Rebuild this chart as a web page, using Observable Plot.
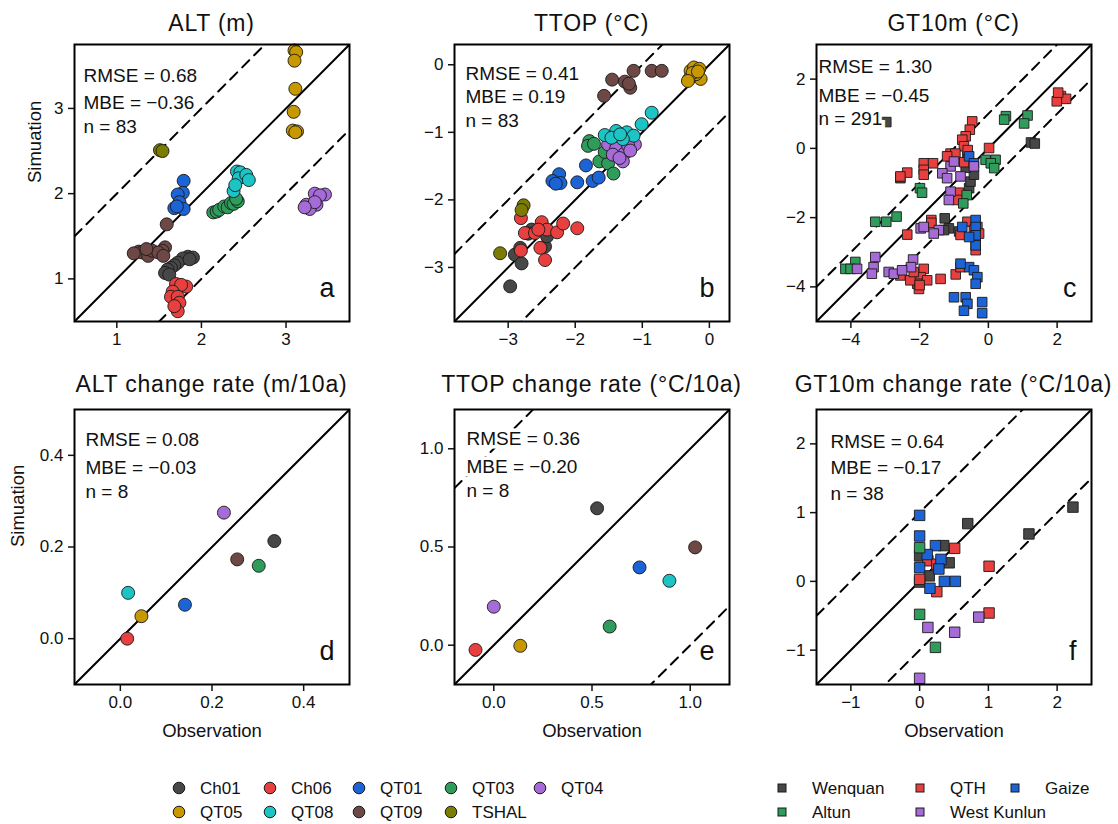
<!DOCTYPE html>
<html><head><meta charset="utf-8">
<script src="https://cdn.jsdelivr.net/npm/d3@7"></script>
<script src="https://cdn.jsdelivr.net/npm/@observablehq/plot@0.6"></script>
<style>
body{margin:0;background:#fff;font-family:"Liberation Sans",Arial,sans-serif;color:#111;}
#root{position:relative;width:1118px;height:824px;overflow:hidden;background:#fff;}
.panel{position:absolute;}
.panel svg{overflow:visible;background:transparent;}
.title{position:absolute;font-size:23px;line-height:1;letter-spacing:0.8px;white-space:nowrap;transform:translateX(-50%);}
.leg{position:absolute;font-size:17px;line-height:1;white-space:nowrap;}
</style></head><body><div id="root"></div>
<script>
// ---------------- categories & colours ----------------
const circleSites = ["Ch01","Ch06","QT01","QT03","QT04","QT05","QT08","QT09","TSHAL"];
const circleColors = ["#474747","#e8403e","#1c64d6","#2f9c5c","#a66bd6","#c89800","#1dc4c6","#6d4844","#7c7c00"];
const squareSites = ["Wenquan","QTH","Gaize","Altun","West Kunlun"];
const squareColors = ["#474747","#e8403e","#1c64d6","#2f9c5c","#a66bd6"];

// ---------------- panel texts & axes ----------------
const titles = ["ALT (m)","TTOP (°C)","GT10m (°C)","ALT change rate (m/10a)","TTOP change rate (°C/10a)","GT10m change rate (°C/10a)"];
const rmse = ["0.68","0.41","1.30","0.08","0.36","0.64"];
const mbe = ["−0.36","0.19","−0.45","−0.03","−0.20","−0.17"];
const nObs = ["83","83","291","8","8","38"];
const letters = ["a","b","c","d","e","f"];
const domains = [[0.5,3.75],[-3.8,0.3],[-5,3],[-0.1,0.5],[-0.2,1.2],[-1.5,2.5]];
const ticks = [[1,2,3],[-3,-2,-1,0],[-4,-2,0,2],[0,0.2,0.4],[0,0.5,1],[-1,0,1,2]];
const tickFormats = ["d","d","d",".1f",".1f","d"];
const bandOffset = 1;

// ---------------- data: [site, observation, simulation] ----------------
const ptsALT = [
 ["Ch01",1.84,1.26],["Ch01",1.90,1.25],["Ch01",1.78,1.24],["Ch01",1.72,1.19],["Ch01",1.68,1.16],["Ch01",1.64,1.13],["Ch01",1.60,1.11],["Ch01",1.57,1.07],["Ch01",1.62,1.05],["Ch01",1.86,1.23],
 ["Ch06",1.70,0.94],["Ch06",1.82,0.91],["Ch06",1.76,0.93],["Ch06",1.66,0.85],["Ch06",1.64,0.79],["Ch06",1.72,0.79],["Ch06",1.74,0.72],["Ch06",1.72,0.62],["Ch06",1.68,0.68],
 ["QT01",1.79,2.15],["QT01",1.78,2.01],["QT01",1.72,1.99],["QT01",1.74,1.90],["QT01",1.68,1.83],["QT01",1.79,1.82],["QT01",1.71,1.85],
 ["QT03",2.14,1.78],["QT03",2.18,1.79],["QT03",2.21,1.81],["QT03",2.27,1.85],["QT03",2.31,1.84],["QT03",2.35,1.89],["QT03",2.38,1.88],["QT03",2.43,1.91],["QT03",2.41,1.94],
 ["QT04",3.34,2.00],["QT04",3.46,1.99],["QT04",3.40,1.98],["QT04",3.24,1.87],["QT04",3.36,1.87],["QT04",3.28,1.82],["QT04",3.34,1.90],["QT04",3.22,1.84],
 ["QT05",3.10,3.68],["QT05",3.12,3.66],["QT05",3.10,3.56],["QT05",3.11,3.23],["QT05",3.09,2.96],["QT05",3.08,2.74],["QT05",3.13,2.73],["QT05",3.11,2.72],
 ["QT08",2.42,2.26],["QT08",2.46,2.25],["QT08",2.44,2.18],["QT08",2.53,2.22],["QT08",2.56,2.16],["QT08",2.38,2.03],["QT08",2.40,2.10],
 ["QT09",1.59,1.64],["QT09",1.57,1.37],["QT09",1.54,1.33],["QT09",1.26,1.32],["QT09",1.30,1.31],["QT09",1.37,1.27],["QT09",1.42,1.33],["QT09",1.49,1.31],["QT09",1.55,1.27],["QT09",1.35,1.35],["QT09",1.20,1.30],
 ["TSHAL",1.51,2.51],["TSHAL",1.54,2.50]
];
const ptsTTOP = [
 ["Ch01",-2.90,-2.81],["Ch01",-2.80,-2.94],["Ch01",-2.82,-2.71],["Ch01",-2.65,-2.44],["Ch01",-2.45,-2.69],["Ch01",-2.97,-3.28],["Ch01",-2.42,-2.54],["Ch01",-2.70,-2.50],
 ["Ch06",-2.81,-2.27],["Ch06",-2.75,-2.49],["Ch06",-2.60,-2.49],["Ch06",-2.50,-2.33],["Ch06",-2.42,-2.44],["Ch06",-2.27,-2.48],["Ch06",-2.18,-2.35],["Ch06",-1.97,-2.42],["Ch06",-2.52,-2.71],["Ch06",-2.45,-2.89],["Ch06",-2.81,-2.75],["Ch06",-2.55,-2.44],
 ["QT01",-1.84,-1.49],["QT01",-2.24,-1.62],["QT01",-2.34,-1.72],["QT01",-2.22,-1.75],["QT01",-2.29,-1.76],["QT01",-1.97,-1.74],["QT01",-1.74,-1.72],["QT01",-1.65,-1.67],
 ["QT03",-1.79,-1.13],["QT03",-1.81,-1.20],["QT03",-1.64,-1.43],["QT03",-1.51,-1.46],["QT03",-1.43,-1.61],["QT03",-1.56,-1.29],["QT03",-1.72,-1.17],
 ["QT04",-1.51,-1.18],["QT04",-1.39,-1.24],["QT04",-1.26,-1.31],["QT04",-1.29,-1.43],["QT04",-1.11,-1.18],["QT04",-1.44,-1.33],["QT04",-1.21,-1.20],["QT04",-1.34,-1.38],["QT04",-1.18,-1.27],
 ["QT05",-0.28,-0.09],["QT05",-0.23,-0.04],["QT05",-0.15,-0.06],["QT05",-0.13,-0.21],["QT05",-0.30,-0.21],["QT05",-0.20,-0.14],["QT05",-0.25,-0.12],["QT05",-0.17,-0.10],["QT05",-0.32,-0.24],
 ["QT08",-0.86,-0.71],["QT08",-1.01,-0.88],["QT08",-1.56,-1.04],["QT08",-1.39,-0.98],["QT08",-1.23,-1.00],["QT08",-1.13,-1.05],["QT08",-1.29,-1.10],["QT08",-1.46,-1.08],["QT08",-1.33,-1.03],
 ["QT09",-1.57,-0.46],["QT09",-1.45,-0.22],["QT09",-1.26,-0.25],["QT09",-1.18,-0.34],["QT09",-1.13,-0.09],["QT09",-0.86,-0.09],["QT09",-0.71,-0.09],["QT09",-1.20,-0.28],
 ["TSHAL",-2.77,-2.08],["TSHAL",-2.80,-2.15],["TSHAL",-3.12,-2.79]
];
const ptsGT = [
 ["Wenquan",-2.97,0.76],["Wenquan",1.24,0.17],["Wenquan",1.35,0.14],["Wenquan",-0.56,-1.15],["Wenquan",-0.52,-0.96],["Wenquan",-0.42,-0.76],["Wenquan",-1.27,-2.02],["Wenquan",-1.15,-2.31],["Wenquan",-1.29,-2.36],["Wenquan",-2.56,-0.86],["Wenquan",-0.61,-0.23],["Wenquan",-0.66,-0.56],["Wenquan",-0.85,-2.40],
 ["QTH",2.11,1.51],["QTH",2.26,1.43],["QTH",1.99,1.36],["QTH",2.03,1.61],["QTH",-0.47,0.78],["QTH",-0.54,0.54],["QTH",-0.66,0.35],["QTH",-0.76,0.25],["QTH",-0.71,0.06],["QTH",0.02,0.01],["QTH",-1.10,-0.15],["QTH",-0.96,-0.15],["QTH",-1.20,-0.23],["QTH",-1.88,-0.43],["QTH",-1.61,-0.43],["QTH",-1.88,-0.62],["QTH",-1.88,-0.76],["QTH",-2.36,-0.70],["QTH",-2.56,-0.81],["QTH",-0.86,-1.28],["QTH",-0.90,-1.49],["QTH",-1.66,-2.07],["QTH",-1.66,-2.15],["QTH",-2.36,-2.49],["QTH",-0.61,-2.12],["QTH",-0.32,-2.27],["QTH",-0.37,-2.65],["QTH",-0.37,-2.94],["QTH",-1.88,-3.48],["QTH",-1.97,-3.72],["QTH",-2.07,-3.91],["QTH",-1.78,-3.81],["QTH",-2.27,-3.81],["QTH",-2.56,-3.67],["QTH",-1.39,-3.77],["QTH",-0.95,-3.64],["QTH",-0.81,-3.43],["QTH",-2.17,-3.57],["QTH",-2.02,-4.06],["QTH",-0.81,-2.50],["QTH",-0.42,-2.36],["QTH",-0.27,-2.46],["QTH",-0.60,-0.05],["QTH",-0.70,-0.40],["QTH",-2.00,-3.95],
 ["Gaize",-0.56,-0.23],["Gaize",-0.42,-0.43],["Gaize",-0.76,-2.27],["Gaize",-0.37,-2.07],["Gaize",-0.37,-2.27],["Gaize",-0.37,-2.51],["Gaize",-0.37,-2.80],["Gaize",-0.56,-2.56],["Gaize",-0.56,-3.43],["Gaize",-0.42,-3.52],["Gaize",-0.32,-3.72],["Gaize",-0.37,-3.91],["Gaize",-1.00,-4.30],["Gaize",-0.66,-4.30],["Gaize",-0.61,-4.49],["Gaize",-0.71,-4.69],["Gaize",-0.18,-4.44],["Gaize",-0.18,-4.76],["Gaize",-0.81,-3.33],
 ["Altun",0.51,0.93],["Altun",0.46,0.83],["Altun",1.14,0.95],["Altun",1.04,0.72],["Altun",-0.08,-0.33],["Altun",0.21,-0.33],["Altun",0.07,-0.43],["Altun",0.17,-0.57],["Altun",-1.99,-1.15],["Altun",-1.93,-1.28],["Altun",-2.67,-1.97],["Altun",-2.97,-2.12],["Altun",-3.29,-2.12],["Altun",-3.87,-3.28],["Altun",-4.16,-3.48],["Altun",-4.01,-3.48],["Altun",-0.63,-1.35],["Altun",-0.73,-1.59],
 ["West Kunlun",-1.10,-0.52],["West Kunlun",-1.34,-0.72],["West Kunlun",-1.20,-0.86],["West Kunlun",-0.81,-0.81],["West Kunlun",-0.42,-0.52],["West Kunlun",-1.10,-1.25],["West Kunlun",-1.15,-1.49],["West Kunlun",-1.97,-2.31],["West Kunlun",-1.88,-2.27],["West Kunlun",-1.44,-2.36],["West Kunlun",-1.59,-2.46],["West Kunlun",-3.29,-3.14],["West Kunlun",-3.34,-3.43],["West Kunlun",-3.39,-3.62],["West Kunlun",-3.82,-3.48],["West Kunlun",-2.90,-3.57],["West Kunlun",-2.75,-3.62],["West Kunlun",-2.19,-3.21],["West Kunlun",-2.25,-3.43],["West Kunlun",-2.51,-3.52],["West Kunlun",-1.00,-0.38]
];
const ptsALTrate = [
 ["Ch01",0.336,0.213],["Ch06",0.015,0.000],["QT01",0.141,0.074],["QT03",0.302,0.159],
 ["QT04",0.226,0.275],["QT05",0.046,0.049],["QT08",0.017,0.100],["QT09",0.255,0.173]
];
const ptsTTOPrate = [
 ["Ch01",0.526,0.697],["Ch06",-0.093,-0.024],["QT01",0.742,0.396],["QT03",0.590,0.095],
 ["QT04",0.000,0.196],["QT05",0.135,-0.003],["QT08",0.894,0.328],["QT09",1.025,0.498]
];
const ptsGTrate = [
 ["Wenquan",2.23,1.08],["Wenquan",1.59,0.69],["Wenquan",0.70,0.84],["Wenquan",0.35,0.52],["Wenquan",0.43,0.27],["Wenquan",0.00,0.37],["Wenquan",0.14,0.08],["Wenquan",0.00,-0.01],
 ["QTH",0.51,0.48],["QTH",0.12,0.30],["QTH",0.25,0.25],["QTH",0.00,0.03],["QTH",0.25,-0.15],["QTH",1.01,0.22],["QTH",1.01,-0.46],
 ["Gaize",0.00,0.96],["Gaize",0.00,0.66],["Gaize",0.23,0.52],["Gaize",0.31,0.32],["Gaize",0.28,0.18],["Gaize",0.00,0.20],["Gaize",0.15,-0.10],["Gaize",0.36,0.00],["Gaize",0.52,0.00],["Gaize",0.11,0.39],
 ["Altun",0.00,0.49],["Altun",0.00,-0.48],["Altun",0.23,-0.96],
 ["West Kunlun",0.12,-0.67],["West Kunlun",0.51,-0.74],["West Kunlun",0.86,-0.52],["West Kunlun",0.00,-1.41]
];

// ---------------- layout (pixels, code only) ----------------
const cols = [{left:0,w:360},{left:380,w:360},{left:742,w:376}];
const rows = [{top:0,h:350,mt:44,fh:277,titleTop:11.5},{top:360,h:400,mt:49,fh:275,titleTop:372.5}];
const FW = 275, ML = 74;
const annDx = [9,11,2,11,12,14];
const annBase = [[30,57.5,81],[28,51,75],[21,50,73],[29,56.7,81.4],[28,55.7,80],[30.7,57.4,83.4]];
const ylabDx = [-39,-56.6];

const root = document.getElementById("root");
const FONT = "Liberation Sans, Arial, sans-serif";

function makePanel(i, pts, sites, colors, symbol, r) {
  const row = Math.floor(i / 3), col = i % 3;
  const C = cols[col], R = rows[row];
  const ends = domains[i];
  const fmt = d3.format(tickFormats[i]);
  const lineStyle = {stroke: "#000", strokeWidth: 2};
  const marks = [
    Plot.line(ends, {x: d => d, y: d => d + bandOffset, ...lineStyle, strokeDasharray: "10,7", clip: true}),
    Plot.line(ends, {x: d => d, y: d => d - bandOffset, ...lineStyle, strokeDasharray: "10,7", clip: true}),
    Plot.line(ends, {x: d => d, y: d => d, ...lineStyle, clip: true}),
    Plot.dot(pts, {x: d => d[1], y: d => d[2], fill: d => d[0], stroke: "#1a1a1a", strokeWidth: 0.9, r, symbol})
  ];
  const lines = [`RMSE = ${rmse[i]}`, `MBE = ${mbe[i]}`, `n = ${nObs[i]}`];
  lines.forEach((t, j) => {
    marks.push(Plot.text([t], {frameAnchor: "top-left", textAnchor: "start", dx: annDx[i], dy: annBase[i][j] - 0.32 * 19,
      fontSize: 19, fill: "#111", stroke: "white", strokeWidth: 7, paintOrder: "stroke", strokeLinejoin: "miter"}));
  });
  marks.push(
    Plot.frame({stroke: "#000", strokeWidth: 2}),
    Plot.axisX(ticks[i], {tickSize: 7, tickPadding: 4, tickFormat: fmt, strokeWidth: 1.5, fontSize: 17, label: null}),
    Plot.axisY(ticks[i], {tickSize: 6, tickPadding: 5, tickFormat: fmt, strokeWidth: 1.5, fontSize: 17, label: null}),
    Plot.text([letters[i]], {frameAnchor: "bottom-right", textAnchor: "end", dx: -15, dy: -16 - 0.32 * 27, fontSize: 27, fill: "#111"})
  );
  if (col === 0) {
    marks.push(Plot.text(["Simuation"], {frameAnchor: "left", rotate: -90, dx: ylabDx[row], fontSize: 18.5, fill: "#111"}));
  }
  if (row === 1) {
    marks.push(Plot.text(["Observation"], {frameAnchor: "bottom", dy: 52, fontSize: 18.5, fill: "#111"}));
  }
  const chart = Plot.plot({
    width: C.w, height: R.h,
    marginLeft: ML, marginRight: C.w - ML - FW, marginTop: R.mt, marginBottom: R.h - R.mt - R.fh,
    x: {domain: domains[i]},
    y: {domain: domains[i]},
    color: {domain: sites, range: colors},
    style: {fontFamily: FONT, fontSize: "17px", color: "#111", background: "transparent", overflow: "visible"},
    marks
  });
  const wrap = document.createElement("div");
  wrap.className = "panel";
  wrap.style.left = C.left + "px";
  wrap.style.top = R.top + "px";
  wrap.appendChild(chart);
  root.appendChild(wrap);

  const t = document.createElement("div");
  t.className = "title";
  t.textContent = titles[i];
  t.style.left = (C.left + ML + FW / 2) + "px";
  t.style.top = R.titleTop + "px";
  root.appendChild(t);
}

makePanel(0, ptsALT, circleSites, circleColors, "circle", 6.5);
makePanel(1, ptsTTOP, circleSites, circleColors, "circle", 6.5);
makePanel(2, ptsGT, squareSites, squareColors, "square", 5.4);
makePanel(3, ptsALTrate, circleSites, circleColors, "circle", 6.5);
makePanel(4, ptsTTOPrate, circleSites, circleColors, "circle", 6.5);
makePanel(5, ptsGTrate, squareSites, squareColors, "square", 5.9);

// ---------------- legends ----------------
const circleLegX = [179, 270, 359, 451, 540];
const squareLegX = [782, 920, 1015];
const legRowY = [788, 812];
function legendItem(label, color, shape, cx, cy, textGap) {
  const ns = "http://www.w3.org/2000/svg";
  const svg = document.createElementNS(ns, "svg");
  svg.setAttribute("width", 16); svg.setAttribute("height", 16);
  svg.style.position = "absolute";
  svg.style.left = (cx - 8) + "px"; svg.style.top = (cy - 8) + "px";
  let el;
  if (shape === "circle") {
    el = document.createElementNS(ns, "circle");
    el.setAttribute("cx", 8); el.setAttribute("cy", 8); el.setAttribute("r", 5.8);
  } else {
    el = document.createElementNS(ns, "rect");
    el.setAttribute("x", 4); el.setAttribute("y", 4); el.setAttribute("width", 8); el.setAttribute("height", 8);
  }
  el.setAttribute("fill", color); el.setAttribute("stroke", "#1a1a1a"); el.setAttribute("stroke-width", 1);
  svg.appendChild(el);
  root.appendChild(svg);
  const t = document.createElement("div");
  t.className = "leg";
  t.textContent = label;
  t.style.left = (cx + textGap) + "px";
  t.style.top = (cy - 8.5) + "px";
  root.appendChild(t);
}
circleSites.forEach((s, k) => legendItem(s, circleColors[k], "circle", circleLegX[k % 5], legRowY[Math.floor(k / 5)], 21));
squareSites.forEach((s, k) => legendItem(s, squareColors[k], "square", squareLegX[k % 3], legRowY[Math.floor(k / 3)], 30));
</script></body></html>
